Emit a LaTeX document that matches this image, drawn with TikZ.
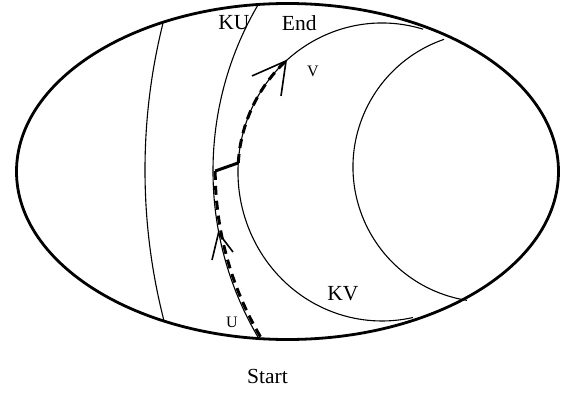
\documentclass[tikz,border=0pt]{standalone}
\usepackage{fontspec}
\setmainfont{Liberation Serif}
\usetikzlibrary{positioning, calc}
\tikzset{
  rim/.style={line width=2.8pt},
  curve/.style={line width=1.1pt},
  route/.style={line width=3pt, dash pattern=on 9pt off 6pt},
  link/.style={line width=3pt},
  barb/.style={line width=1.6pt, line join=miter},
  lbl/.style={inner sep=0pt, font=\fontsize{21.5}{24}\selectfont},
  smalllbl/.style={inner sep=0pt, font=\fontsize{16}{18}\selectfont}
}

\begin{document}
\begin{tikzpicture}[x=1pt, y=1pt]
  \useasboundingbox (0,0) rectangle (571,392);
  % centres of the outer ellipse and of the arcs
  \coordinate (o) at (287.5,220.5);
  \coordinate (far) at (748,222);
  \coordinate (ku) at (541.7,221);
  \coordinate (kv) at (382,220);
  \coordinate (in) at (488,225);

  \begin{scope}
    \clip (o) ellipse [x radius=271, y radius=168];
    \draw[curve] (far) circle [radius=603];
    \draw[curve] (ku) circle [radius=328.7];
  \end{scope}
  \draw[curve] (kv) ++(73.4:144 and 149)
    arc[start angle=73.4, end angle=282.4, x radius=144, y radius=149];
  \draw[curve] (in) ++(109:135)
    arc[start angle=109, end angle=261, radius=135];
  \draw[rim] (o) ellipse [x radius=271, y radius=168];

  % the route from Start to End
  \draw[route] (ku) ++(210.5:326.5) coordinate (start)
    arc[start angle=210.5, end angle=180, radius=326.5] coordinate (jl);
  \draw[route] (kv) ++(176.5:144 and 149) coordinate (jr)
    arc[start angle=176.5, end angle=131.8, x radius=144, y radius=149] coordinate (vtip);
  \draw[link] (jl) -- (jr);

  % arrow heads
  \coordinate (utip) at (218.5,159);
  \draw[barb] (utip) ++(-6.5,-27) coordinate (ub1) -- (utip) -- ++(14.5,-19) coordinate (ub2);
  \draw[barb] (vtip) ++(-34,-15) coordinate (vb1) -- (vtip) -- ++(-5,-35) coordinate (vb2);

  \node[lbl] (kulbl) at (234,369) {KU};
  \node[lbl, right=32pt of kulbl] (endlbl) {End};
  \node[smalllbl] (vlbl) at (313,321) {V};
  \node[smalllbl] (ulbl) at (232,70) {U};
  \node[lbl] (kvlbl) at (343,98) {KV};
  \node[lbl] (startlbl) at (267.5,16) {Start};
\end{tikzpicture}
\end{document}
